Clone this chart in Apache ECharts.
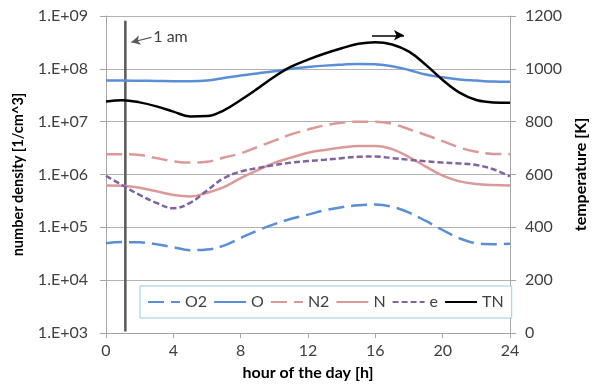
<!DOCTYPE html>
<html>
<head>
<meta charset="utf-8">
<script src="https://cdn.jsdelivr.net/npm/echarts@6/dist/echarts.min.js"></script>
<style>html,body{margin:0;padding:0;background:#fff}#c{width:597px;height:385px}</style>
</head>
<body>
<div id="c"></div>
<script>
var hours = [0,1,2,3,4,5,6,7,8,9,10,11,12,13,14,15,16,17,18,19,20,21,22,23,24];
var O2 = [5.0e4,5.25e4,5.2e4,4.8e4,4.2e4,3.7e4,3.8e4,4.5e4,6.3e4,8.7e4,1.15e5,1.45e5,1.74e5,2.1e5,2.4e5,2.63e5,2.7e5,2.45e5,1.9e5,1.32e5,8.9e4,6.2e4,5.0e4,4.8e4,4.9e4];
var O = [6.0e7,6.0e7,5.95e7,5.9e7,5.85e7,5.85e7,6.0e7,6.7e7,7.5e7,8.2e7,9.0e7,1.0e8,1.08e8,1.15e8,1.2e8,1.24e8,1.22e8,1.12e8,9.5e7,7.8e7,6.9e7,6.3e7,6.0e7,5.75e7,5.7e7];
var N2 = [2.43e6,2.43e6,2.34e6,2.04e6,1.78e6,1.68e6,1.74e6,2.09e6,2.51e6,3.31e6,4.37e6,5.75e6,7.08e6,8.5e6,9.55e6,1.0e7,1.0e7,9.1e6,7.2e6,5.6e6,4.27e6,3.24e6,2.69e6,2.45e6,2.43e6];
var N = [6.2e5,6.1e5,5.6e5,4.8e5,4.1e5,3.85e5,4.5e5,5.75e5,8.5e5,1.2e6,1.66e6,2.09e6,2.57e6,2.92e6,3.24e6,3.47e6,3.47e6,3.02e6,2.14e6,1.41e6,9.5e5,7.4e5,6.6e5,6.3e5,6.2e5];
var E = [9.4e5,6.2e5,4.1e5,2.9e5,2.3e5,2.9e5,5.0e5,8.5e5,1.14e6,1.32e6,1.51e6,1.68e6,1.8e6,1.9e6,2.04e6,2.16e6,2.19e6,2.04e6,1.9e6,1.78e6,1.68e6,1.62e6,1.51e6,1.26e6,9.2e5];
var TN = [876,881,873,858,838,820,821,843,882,925,970,1008,1035,1058,1078,1095,1101,1092,1065,1015,958,910,882,873,872];
var markHour = 1.15;
var markLineRange = [8.15e8, 1.07e3];

function pairs(arr){ return hours.map(function(h,i){ return [h, arr[i]]; }); }

var FONT = 'Lato';
var chart = echarts.init(document.getElementById('c'), null, {renderer:'canvas'});
var blue = '#5A8FD8', pink = '#DB9A98', purple = '#8064A2';

chart.setOption({
  animation:false,
  textStyle:{fontFamily:FONT},
  grid:{left:106, right:87, top:16, bottom:52, outerBoundsMode:'none', containLabel:false},
  legend:{
    left:140, top:286, padding:[8,8,8,7],
    itemWidth:32, itemHeight:14, itemGap:6,
    borderColor:'#93CDDD', borderWidth:1, borderRadius:0, backgroundColor:'#fff',
    itemStyle:{opacity:0},
    textStyle:{fontFamily:FONT, fontSize:16, color:'#404040'},
    data:['O2','O','N2','N','e','TN']
  },
  xAxis:{
    type:'value', min:0, max:24, interval:4,
    name:'hour of the day [h]', nameLocation:'middle', nameGap:32,
    nameTextStyle:{fontFamily:FONT, fontSize:16, fontWeight:'bold', color:'#000'},
    axisLine:{lineStyle:{color:'#A6A6A6', width:1}},
    axisTick:{show:true, length:5, lineStyle:{color:'#A6A6A6'}},
    axisLabel:{fontFamily:FONT, fontSize:16, color:'#404040', margin:10},
    splitLine:{show:false}
  },
  yAxis:[{
    type:'log', logBase:10, min:1e3, max:1e9, interval:1, splitNumber:6,
    name:'number density [1/cm^3]', nameLocation:'middle', nameGap:80, nameRotate:90,
    nameTextStyle:{fontFamily:FONT, fontSize:14.5, fontWeight:'bold', color:'#000'},
    axisLine:{show:true, lineStyle:{color:'#A6A6A6', width:1}},
    axisTick:{show:true, length:6, lineStyle:{color:'#A6A6A6'}},
    axisLabel:{fontFamily:FONT, fontSize:16, color:'#404040', margin:18,
      formatter:function(v){ var e=Math.round(Math.log10(v)); return '1.E+' + (e<10?'0':'') + e; }},
    splitLine:{show:true, lineStyle:{color:'#B3B3B3', width:1}},
    minorTick:{show:false}, minorSplitLine:{show:false}
  },{
    type:'value', min:0, max:1200, interval:200, position:'right',
    name:'temperature [K]', nameLocation:'middle', nameGap:59, nameRotate:90,
    nameTextStyle:{fontFamily:FONT, fontSize:16, fontWeight:'bold', color:'#000'},
    axisLine:{show:true, lineStyle:{color:'#A6A6A6', width:1}},
    axisTick:{show:true, length:6, lineStyle:{color:'#A6A6A6'}},
    axisLabel:{fontFamily:FONT, fontSize:16, color:'#404040', margin:15,
      formatter:function(v){ return String(v); }},
    splitLine:{show:false}
  }],
  series:[
    {name:'1am', type:'line', yAxisIndex:0, data:[[markHour, markLineRange[0]],[markHour, markLineRange[1]]],
     symbol:'none', lineStyle:{color:'#595959', width:2.5}, z:1, silent:true,
     markLine:{silent:true, symbol:['none','arrow'], symbolSize:[7,9],
       lineStyle:{color:'#595959', width:1.2, type:'solid'}, label:{show:false},
       data:[[{coord:[2.7, 3.95e8]},{coord:[1.5, 3.18e8]}]]},
     markPoint:{silent:true, symbol:'rect', symbolSize:0,
       data:[{coord:[2.75, 3.95e8], label:{show:true, position:'right', distance:1, formatter:'1 am',
         fontFamily:FONT, fontSize:16, color:'#404040'}}]}
    },
    {name:'O2', type:'line', yAxisIndex:0, data:pairs(O2), smooth:0.4, symbol:'none',
     lineStyle:{color:blue, width:2.5, type:[16,7]}, itemStyle:{color:blue}},
    {name:'O', type:'line', yAxisIndex:0, data:pairs(O), smooth:0.4, symbol:'none',
     lineStyle:{color:blue, width:2.5}, itemStyle:{color:blue}},
    {name:'N2', type:'line', yAxisIndex:0, data:pairs(N2), smooth:0.4, symbol:'none',
     lineStyle:{color:pink, width:2.5, type:[16,7]}, itemStyle:{color:pink}},
    {name:'N', type:'line', yAxisIndex:0, data:pairs(N), smooth:0.4, symbol:'none',
     lineStyle:{color:pink, width:2.5}, itemStyle:{color:pink}},
    {name:'e', type:'line', yAxisIndex:0, data:pairs(E), smooth:0.4, symbol:'none',
     lineStyle:{color:purple, width:2.5, type:[6,3]}, itemStyle:{color:purple}},
    {name:'TN', type:'line', yAxisIndex:1, data:pairs(TN), smooth:0.4, symbol:'none',
     lineStyle:{color:'#000', width:2.5}, itemStyle:{color:'#000'},
     markLine:{silent:true, symbol:['none','arrow'], symbolSize:[8,10],
       lineStyle:{color:'#000', width:1.5, type:'solid'}, label:{show:false},
       data:[[{coord:[15.8, 1127]},{coord:[17.7, 1127]}]]}
    }
  ]
});
</script>
</body>
</html>
